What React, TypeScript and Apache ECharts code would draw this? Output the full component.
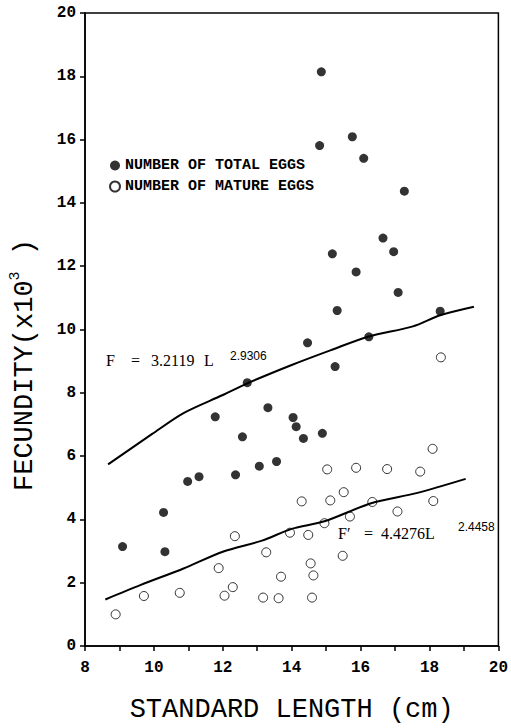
import React, { useEffect, useRef } from "react";
import * as echarts from "echarts";

// Standard length (cm) and fecundity (x10^3)
const totalLength = [9.09, 10.28, 10.32, 10.98, 11.31, 11.78, 12.37, 12.57, 12.71, 13.06, 13.31, 13.56, 14.04, 14.13, 14.34, 14.46, 14.89, 14.81, 14.86, 15.18, 15.26, 15.32, 15.76, 15.87, 16.09, 16.24, 16.65, 16.96, 17.09, 17.27, 18.31];
const totalEggs = [3.14, 4.22, 2.98, 5.2, 5.35, 7.24, 5.41, 6.61, 8.32, 5.68, 7.53, 5.83, 7.22, 6.93, 6.56, 9.58, 6.72, 15.81, 18.14, 12.39, 8.83, 10.6, 16.09, 11.82, 15.41, 9.77, 12.89, 12.46, 11.17, 14.37, 10.58];

const matureLength = [8.89, 9.71, 10.75, 11.88, 12.05, 12.29, 12.35, 13.17, 13.26, 13.62, 13.69, 13.95, 14.29, 14.48, 14.55, 14.63, 14.59, 14.95, 15.03, 15.12, 15.48, 15.51, 15.69, 15.87, 16.34, 16.77, 17.07, 17.73, 18.09, 18.11, 18.33];
const matureEggs = [1.0, 1.58, 1.68, 2.46, 1.59, 1.86, 3.47, 1.53, 2.96, 1.51, 2.19, 3.58, 4.57, 3.51, 2.61, 2.23, 1.53, 3.88, 5.58, 4.6, 2.85, 4.86, 4.09, 5.63, 4.55, 5.59, 4.25, 5.51, 6.23, 4.58, 9.12];

// Fitted curves
const fitTotalL = [8.67, 9.95, 10.86, 12.0, 12.71, 14.0, 15.14, 16.24, 17.52, 18.31, 19.29];
const fitTotalF = [5.74, 6.7, 7.36, 7.93, 8.3, 8.88, 9.35, 9.78, 10.1, 10.45, 10.72];
const fitMatureL = [8.59, 9.62, 10.86, 12.0, 13.14, 14.0, 14.95, 16.33, 17.62, 19.05];
const fitMatureF = [1.47, 1.93, 2.45, 2.98, 3.33, 3.7, 3.94, 4.52, 4.83, 5.28];

const seriesNames = ["NUMBER OF TOTAL EGGS", "NUMBER OF MATURE EGGS"];
const xTicks = { min: 8, max: 20, interval: 2 };
const yTicks = { min: 0, max: 20, interval: 2 };

const zip = (a: number[], b: number[]) => a.map((v, i) => [v, b[i]]);

export default function App() {
  const ref = useRef<HTMLDivElement>(null);
  useEffect(() => {
    if (!ref.current) return;
    const chart = echarts.init(ref.current, undefined, { renderer: "svg" });
    const mono = "Liberation Mono";
    const serif = "Liberation Serif";
    const sans = "Liberation Sans";
    chart.setOption({
      animation: false,
      backgroundColor: "#fff",
      grid: {
        left: 85,
        right: 6,
        top: 13,
        bottom: 80,
        show: true,
        borderColor: "#000",
        borderWidth: 1.5,
        backgroundColor: "transparent",
      },
      legend: {
        data: seriesNames,
        orient: "vertical",
        left: 104,
        top: 153,
        itemWidth: 10,
        itemHeight: 10,
        itemGap: 6,
        icon: "circle",
        textStyle: { fontFamily: mono, fontWeight: "bold", fontSize: 15, color: "#000" },
      },
      xAxis: {
        type: "value",
        min: xTicks.min,
        max: xTicks.max,
        interval: xTicks.interval,
        name: "STANDARD LENGTH (cm)",
        nameLocation: "middle",
        nameGap: 50,
        nameTextStyle: { fontFamily: mono, fontSize: 27, color: "#000" },
        axisLine: { show: true, lineStyle: { color: "#000", width: 1.5 } },
        axisTick: { show: true, length: 5, lineStyle: { color: "#000", width: 1.5 } },
        minorTick: { show: true, splitNumber: 2, length: 5, lineStyle: { color: "#000", width: 1.5 } },
        axisLabel: { fontFamily: mono, fontWeight: "bold", fontSize: 16, color: "#000", margin: 14 },
        splitLine: { show: false },
      },
      yAxis: {
        type: "value",
        min: yTicks.min,
        max: yTicks.max,
        interval: yTicks.interval,
        axisLine: { show: true, lineStyle: { color: "#000", width: 1.5 } },
        axisTick: { show: true, length: 5, lineStyle: { color: "#000", width: 1.5 } },
        axisLabel: { fontFamily: mono, fontWeight: "bold", fontSize: 16, color: "#000", margin: 9 },
        splitLine: { show: false },
      },
      graphic: [
        {
          type: "text",
          x: 23,
          y: 365,
          rotation: Math.PI / 2,
          style: {
            text: "{a|FECUNDITY(x10}{b|3}{a| )}",
            align: "center",
            verticalAlign: "middle",
            fill: "#000",
            rich: {
              a: { fontFamily: mono, fontSize: 27, lineHeight: 30, fill: "#000", verticalAlign: "bottom" },
              b: { fontFamily: mono, fontSize: 15, lineHeight: 30, fill: "#000", verticalAlign: "top" },
            },
          },
        },
        { type: "text", x: 106, y: 360, style: { text: "F", font: `16px '${serif}'`, fill: "#000", verticalAlign: "middle" } },
        { type: "text", x: 131, y: 360, style: { text: "=", font: `16px '${serif}'`, fill: "#000", verticalAlign: "middle" } },
        { type: "text", x: 151, y: 360, style: { text: "3.2119", font: `16px '${serif}'`, fill: "#000", verticalAlign: "middle" } },
        { type: "text", x: 204, y: 360, style: { text: "L", font: `16px '${serif}'`, fill: "#000", verticalAlign: "middle" } },
        { type: "text", x: 230, y: 356, style: { text: "2.9306", font: `12px '${sans}'`, fill: "#000", verticalAlign: "middle" } },
        { type: "text", x: 338, y: 533, style: { text: "F\u2032", font: `16px '${serif}'`, fill: "#000", verticalAlign: "middle" } },
        { type: "text", x: 364, y: 533, style: { text: "=", font: `16px '${serif}'`, fill: "#000", verticalAlign: "middle" } },
        { type: "text", x: 381, y: 533, style: { text: "4.4276L", font: `16px '${serif}'`, fill: "#000", verticalAlign: "middle" } },
        { type: "text", x: 458, y: 527, style: { text: "2.4458", font: `12px '${sans}'`, fill: "#000", verticalAlign: "middle" } },
      ],
      series: [
        {
          name: seriesNames[0],
          type: "scatter",
          data: zip(totalLength, totalEggs),
          symbol: "circle",
          symbolSize: 9,
          itemStyle: { color: "#000" },
        },
        {
          name: seriesNames[1],
          type: "scatter",
          data: zip(matureLength, matureEggs),
          symbol: "circle",
          symbolSize: 9,
          itemStyle: { color: "#fff", borderColor: "#000", borderWidth: 1 },
        },
        {
          name: "F",
          type: "line",
          data: zip(fitTotalL, fitTotalF),
          smooth: 0.3,
          showSymbol: false,
          symbol: "none",
          lineStyle: { color: "#000", width: 2 },
        },
        {
          name: "F'",
          type: "line",
          data: zip(fitMatureL, fitMatureF),
          smooth: 0.3,
          showSymbol: false,
          symbol: "none",
          lineStyle: { color: "#000", width: 2 },
        },
      ],
    });
    return () => chart.dispose();
  }, []);
  return <div ref={ref} style={{ width: 511, height: 728, position: "absolute", left: 0, top: 0 }} />;
}
